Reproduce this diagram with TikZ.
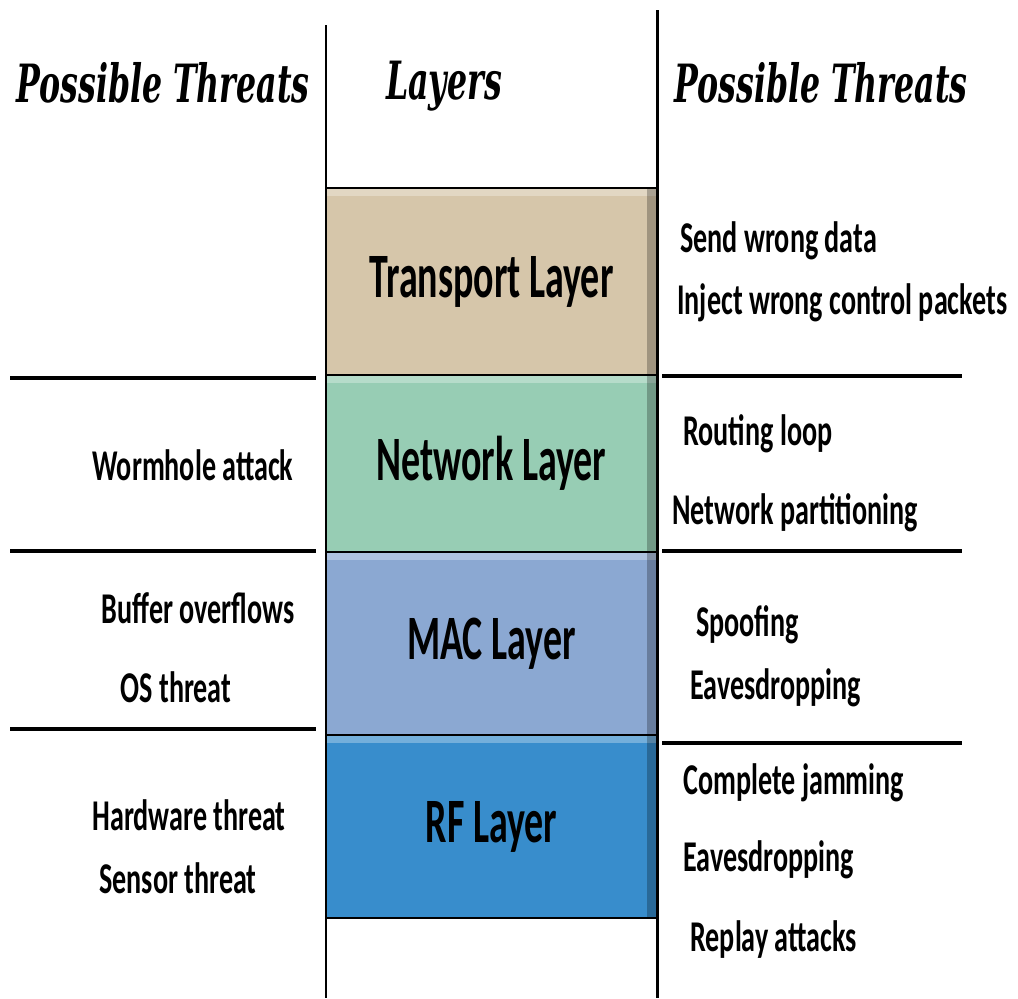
\documentclass[tikz,border=0pt]{standalone}
\usepackage{fontspec}
\usepackage{tikz}
\usetikzlibrary{positioning, calc}
\newfontfamily\threatfont[FakeStretch=0.64]{Carlito}
\newfontfamily\layerfont[FakeStretch=0.6]{Carlito}
\newfontfamily\headfont[FakeStretch=0.6]{DejaVu Serif}
\definecolor{transportcol}{RGB}{214,198,170}
\definecolor{networkcol}{RGB}{151,205,180}
\definecolor{maccol}{RGB}{139,168,210}
\definecolor{rfcol}{RGB}{56,141,204}

\begin{document}
\begin{tikzpicture}[
  x=0.02cm, y=-0.02cm,
  layerbox/.style={draw=black, line width=1.6pt, fill=#1, minimum width=6.62cm, inner sep=0pt, outer sep=0pt,
    font=\layerfont\bfseries\fontsize{36}{40}\selectfont,
    path picture={
      \fill[white, opacity=0.3] (path picture bounding box.north west) rectangle ([yshift=-0.15cm]path picture bounding box.north east);
      \fill[black, opacity=0.25] ([xshift=-0.2cm]path picture bounding box.north east) rectangle (path picture bounding box.south east);
    }},
  threat/.style={inner sep=0pt, font=\threatfont\bfseries\fontsize{25}{28}\selectfont},
  header/.style={inner sep=0pt, font=\headfont\bfseries\itshape\fontsize{30}{34}\selectfont},
  rule/.style={line width=2.2pt},
]
  \useasboundingbox (0,0) rectangle (1018,998);

  % Column headers
  \node[header] (hleft) at (163,83) {Possible Threats};
  \node[header] (hmid) at (444,86) {Layers};
  \node[header] (hright) at (821,83) {Possible Threats};

  % Column borders
  \coordinate (ltop) at (326,25);
  \coordinate (lbot) at (326,998);
  \coordinate (rtop) at (657,10);
  \coordinate (rbot) at (657,998);
  \draw[line width=1.7pt] (ltop) -- (lbot);
  \draw[line width=1.7pt] (rtop) -- (rbot);

  % Layer stack
  \node[layerbox=transportcol, minimum height=3.74cm] (transport) at (491.5,281.5) {Transport Layer};
  \node[layerbox=networkcol, minimum height=3.54cm] (network) at (491.5,463.5) {Network Layer};
  \node[layerbox=maccol, minimum height=3.66cm] (mac) at (491.5,643.5) {MAC Layer};
  \node[layerbox=rfcol, minimum height=3.66cm] (rf) at (491.5,826.5) {RF Layer};

  % Separators, left side
  \draw[rule] (10,378) -- (316,378);
  \draw[rule] (10,551) -- (316,551);
  \draw[rule] (10,729) -- (316,729);

  % Separators, right side
  \draw[rule] (662,376) -- (962,376);
  \draw[rule] (662,551) -- (962,551);
  \draw[rule] (662,743) -- (962,743);

  % Threats, left side
  \node[threat] (worm) at (193,465) {Wormhole attack};
  \node[threat] (buffer) at (198,608) {Buffer overflows};
  \node[threat] (os) at (176,687) {OS threat};
  \node[threat] (hardware) at (189,815) {Hardware threat};
  \node[threat] (sensor) at (178,878) {Sensor threat};

  % Threats, right side
  \node[threat, anchor=west] (send) at (680,241) {Send wrong data};
  \node[threat, anchor=west] (inject) at (677,303) {Inject wrong control packets};
  \node[threat, anchor=west] (routing) at (683,434) {Routing loop};
  \node[threat, anchor=west] (partition) at (672,513) {Network partitioning};
  \node[threat, anchor=west] (spoof) at (696,625) {Spoofing};
  \node[threat, anchor=west] (eaves) at (690,688) {Eavesdropping};
  \node[threat, anchor=west] (jam) at (683,783) {Complete jamming};
  \node[threat, anchor=west] (eavesrf) at (683,860) {Eavesdropping};
  \node[threat, anchor=west] (replay) at (690,940) {Replay attacks};
\end{tikzpicture}
\end{document}
